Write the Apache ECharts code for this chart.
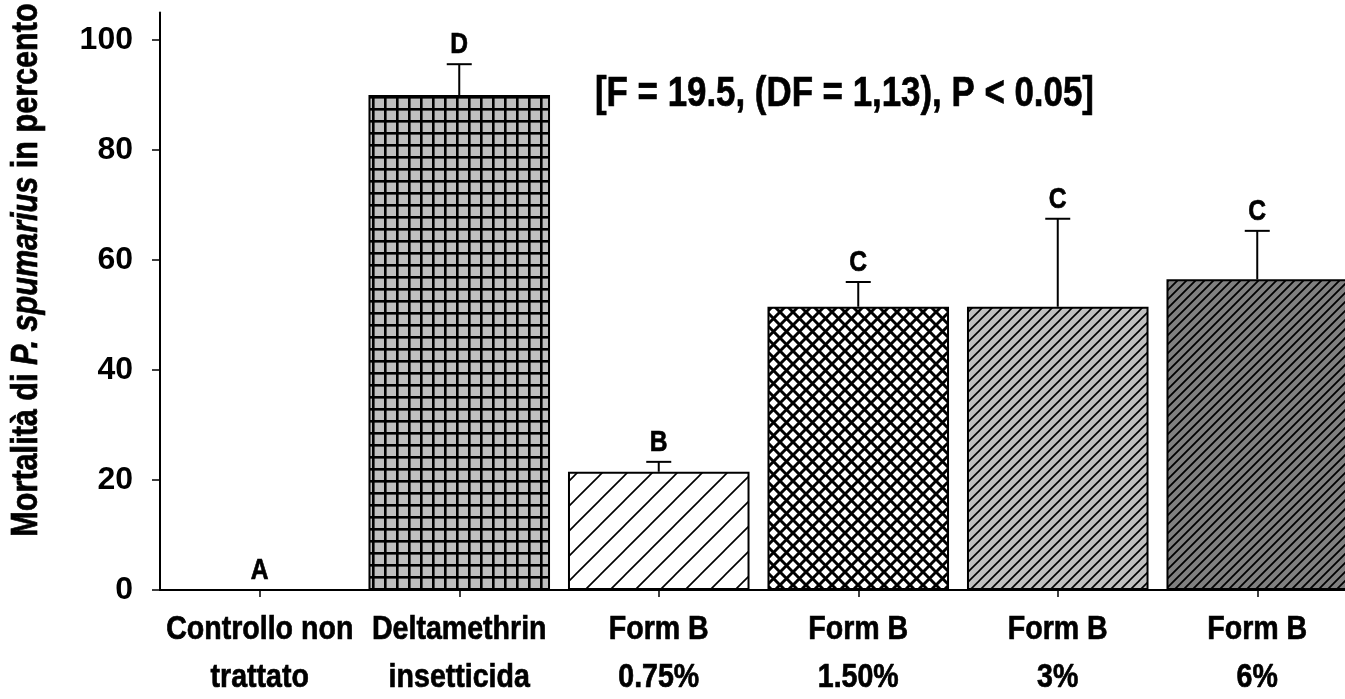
<!DOCTYPE html>
<html>
<head>
<meta charset="utf-8">
<script src="https://cdn.jsdelivr.net/npm/echarts@6/dist/echarts.min.js"></script>
<style>
  html, body { margin: 0; padding: 0; background: #ffffff; overflow: hidden; }
  #chart { width: 1345px; height: 699px; }
</style>
</head>
<body>
<div id="chart"></div>
<script>
// Treatments on the category axis (two-line labels)
const categories = [
  'Controllo non\ntrattato',
  'Deltamethrin\ninsetticida',
  'Form B\n0.75%',
  'Form B\n1.50%',
  'Form B\n3%',
  'Form B\n6%'
];
// Mean mortality (%) per treatment
const mortality = [0, 90, 21.5, 51.5, 51.5, 56.5];
// Upper error (standard error) per treatment
const errorUpper = [0, 5.6, 1.8, 4.5, 16, 8.8];
// Significance groups
const groupLetters = ['A', 'D', 'B', 'C', 'C', 'C'];
// Y axis ticks
const yTicks = [0, 20, 40, 60, 80, 100];

// Bold sans, horizontally condensed (and slightly thickened) where drawn by hand
const FONT = "'Liberation Sans', Arial, sans-serif";
const THICK = { stroke: '#000', lineWidth: 0.7 };

// ---- fill patterns for the bars ----
function makeTile(size, draw) {
  const c = document.createElement('canvas');
  c.width = size; c.height = size;
  const ctx = c.getContext('2d');
  draw(ctx, size);
  return { image: c, repeat: 'repeat' };
}
function diagonal(bg, period, lw) {
  return makeTile(period, (ctx, p) => {
    ctx.fillStyle = bg; ctx.fillRect(0, 0, p, p);
    ctx.strokeStyle = '#000'; ctx.lineWidth = lw; ctx.lineCap = 'square';
    ctx.beginPath();
    ctx.moveTo(-1, p + 1); ctx.lineTo(p + 1, -1);
    ctx.moveTo(-2, 2); ctx.lineTo(2, -2);
    ctx.moveTo(p - 2, p + 2); ctx.lineTo(p + 2, p - 2);
    ctx.stroke();
  });
}
const gridPattern = makeTile(12, (ctx, p) => {
  ctx.fillStyle = '#c0c0c0'; ctx.fillRect(0, 0, p, p);
  ctx.fillStyle = '#000';
  ctx.fillRect(0, 0, p, 2.6);
  ctx.fillRect(0, 0, 2.6, p);
});
const crossPattern = makeTile(13, (ctx, p) => {
  ctx.fillStyle = '#fff'; ctx.fillRect(0, 0, p, p);
  ctx.strokeStyle = '#000'; ctx.lineWidth = 3;
  ctx.beginPath();
  ctx.moveTo(-2, -2); ctx.lineTo(p + 2, p + 2);
  ctx.moveTo(-2, p + 2); ctx.lineTo(p + 2, -2);
  ctx.stroke();
});
const barFills = [
  '#ffffff',
  gridPattern,
  diagonal('#ffffff', 25, 1.6),
  crossPattern,
  diagonal('#c0c0c0', 10, 1.6),
  diagonal('#808080', 9, 1.8)
];

const chart = echarts.init(document.getElementById('chart'), null, { renderer: 'canvas' });

const option = {
  backgroundColor: '#ffffff',
  animation: false,
  grid: { left: 160, right: -12, top: 12.5, bottom: 109, containLabel: false, outerBoundsMode: 'none' },
  xAxis: {
    type: 'category',
    data: categories,
    boundaryGap: true,
    axisLine: { show: true, lineStyle: { color: '#000', width: 2 } },
    axisTick: { show: true, alignWithLabel: true, length: 7, lineStyle: { color: '#000', width: 1.5 } },
    axisLabel: { show: false },
    splitLine: { show: false }
  },
  yAxis: {
    type: 'value',
    min: 0, max: 105,
    axisLine: { show: true, lineStyle: { color: '#000', width: 2 } },
    axisTick: { show: true, length: 8, customValues: yTicks, lineStyle: { color: '#000', width: 1.5 } },
    axisLabel: {
      customValues: yTicks, margin: 27, color: '#000',
      fontFamily: FONT, fontWeight: 'bold', fontSize: 32
    },
    splitLine: { show: false }
  },
  graphic: [
    {
      type: 'text',
      x: 27, y: 270,
      rotation: Math.PI / 2,
      scaleX: 0.85,
      style: Object.assign({
        text: 'Mortalità di {i|P. spumarius} in percento',
        fontFamily: FONT, fontWeight: 'bold', fontSize: 36, fill: '#000',
        align: 'center', verticalAlign: 'middle',
        rich: { i: Object.assign({ fontFamily: FONT, fontWeight: 'bold', fontStyle: 'italic', fontSize: 36, fill: '#000' }, THICK) }
      }, THICK)
    },
    {
      type: 'text',
      x: 595, y: 94,
      scaleX: 0.83,
      style: Object.assign({
        text: '[F = 19.5, (DF = 1,13), P < 0.05]',
        fontFamily: FONT, fontWeight: 'bold', fontSize: 42, fill: '#000',
        align: 'left', verticalAlign: 'middle'
      }, THICK)
    }
  ],
  series: [
    {
      type: 'bar',
      barWidth: '91%',
      data: mortality.map((v, i) => ({
        value: v,
        itemStyle: { color: barFills[i], borderColor: '#000', borderWidth: 2 }
      })),
      z: 2
    },
    {
      // error bars (upper only) with the group letter above each
      type: 'custom',
      data: mortality.map((v, i) => [i, v, errorUpper[i]]),
      z: 3,
      renderItem(params, api) {
        const i = api.value(0);
        const v = api.value(1);
        const e = api.value(2);
        const base = api.coord([i, v]);
        const top = api.coord([i, v + e]);
        const children = [];
        if (e > 0) {
          children.push({ type: 'line', shape: { x1: base[0], y1: base[1], x2: top[0], y2: top[1] },
            style: { stroke: '#000', lineWidth: 2 } });
          children.push({ type: 'line', shape: { x1: top[0] - 12.5, y1: top[1], x2: top[0] + 12.5, y2: top[1] },
            style: { stroke: '#000', lineWidth: 2 } });
        }
        children.push({
          type: 'text', x: top[0], y: top[1] - 4, scaleX: 0.82,
          style: Object.assign({
            text: groupLetters[params.dataIndex],
            fontFamily: FONT, fontWeight: 'bold', fontSize: 30, fill: '#000',
            align: 'center', verticalAlign: 'bottom'
          }, THICK)
        });
        return { type: 'group', children };
      }
    },
    {
      // category labels under the axis, condensed bold
      type: 'custom',
      data: categories.map((c, i) => [i, 0]),
      z: 3,
      silent: true,
      renderItem(params, api) {
        const p = api.coord([api.value(0), 0]);
        return {
          type: 'text', x: p[0], y: p[1] + 16, scaleX: 0.84,
          style: Object.assign({
            text: categories[params.dataIndex],
            fontFamily: FONT, fontWeight: 'bold', fontSize: 34, lineHeight: 48, fill: '#000',
            align: 'center', verticalAlign: 'top'
          }, THICK)
        };
      }
    }
  ]
};

chart.setOption(option);
</script>
</body>
</html>
